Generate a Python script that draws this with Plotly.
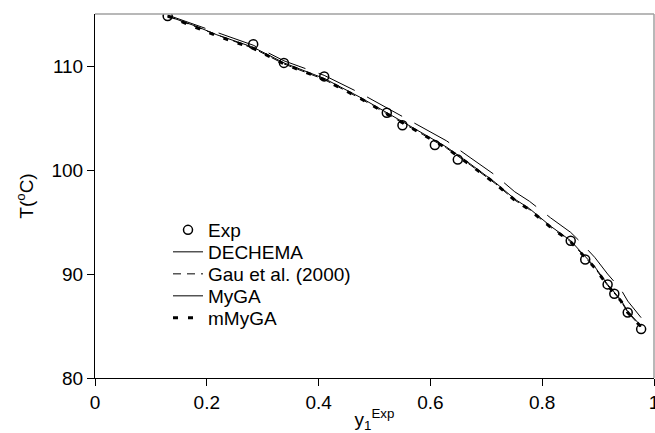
import plotly.graph_objects as go

# Experimental data
exp_x = [0.130, 0.283, 0.338, 0.410, 0.522, 0.550, 0.608, 0.649, 0.851, 0.877, 0.917, 0.929, 0.953, 0.977]
exp_T = [114.8, 112.1, 110.3, 109.0, 105.5, 104.3, 102.4, 101.0, 93.2, 91.4, 89.0, 88.1, 86.3, 84.7]

# Model curves
mod_x = [0.130, 0.182, 0.218, 0.283, 0.338, 0.410, 0.474, 0.522, 0.575, 0.629, 0.671, 0.716,
         0.751, 0.777, 0.815, 0.851, 0.868, 0.894, 0.917, 0.941, 0.953, 0.969, 0.977]
dechema_T = [114.9, 113.9, 113.2, 112.0, 110.5, 109.1, 107.4, 106.0, 104.4, 102.8, 101.2, 99.5,
             97.9, 97.0, 95.4, 94.0, 93.1, 91.6, 90.0, 88.5, 87.4, 86.4, 85.8]
gau_T = [114.8, 113.7, 113.0, 111.7, 110.2, 108.7, 106.9, 105.4, 103.8, 102.1, 100.5, 98.7,
         97.1, 96.2, 94.5, 93.1, 92.1, 90.6, 88.9, 87.4, 86.3, 85.4, 84.9]
myga_T = [114.8, 113.8, 113.0, 111.8, 110.3, 108.8, 107.0, 105.5, 103.9, 102.2, 100.6, 98.8,
          97.2, 96.3, 94.6, 93.2, 92.2, 90.7, 89.0, 87.5, 86.4, 85.5, 85.0]
mmyga_T = [114.8, 113.7, 112.9, 111.7, 110.2, 108.7, 106.9, 105.4, 103.8, 102.1, 100.5, 98.7,
           97.1, 96.2, 94.5, 93.1, 92.1, 90.6, 88.9, 87.4, 86.3, 85.4, 84.9]

series_names = ["Exp", "DECHEMA", "Gau et al. (2000)", "MyGA", "mMyGA"]

x_ticks = [0, 0.2, 0.4, 0.6, 0.8, 1]
x_tick_labels = ["0", "0.2", "0.4", "0.6", "0.8", "1"]
y_ticks = [80, 90, 100, 110]
y_tick_labels = ["80", "90", "100", "110"]

FONT = "Liberation Sans, Arial, sans-serif"
FS = 19

fig = go.Figure()
fig.add_trace(go.Scatter(x=exp_x, y=exp_T, mode="markers", name=series_names[0], legend="legend",
                         marker=dict(symbol="circle-open", size=9, color="black",
                                     line=dict(width=1.5, color="black"))))
fig.add_trace(go.Scatter(x=mod_x, y=dechema_T, mode="lines", name=series_names[1], legend="legend2",
                         line=dict(color="black", width=1, dash="40px,14px")))
fig.add_trace(go.Scatter(x=mod_x, y=gau_T, mode="lines", name=series_names[2], legend="legend3",
                         line=dict(color="black", width=1, dash="8px,6px")))
fig.add_trace(go.Scatter(x=mod_x, y=myga_T, mode="lines", name=series_names[3], legend="legend4",
                         line=dict(color="black", width=1)))
fig.add_trace(go.Scatter(x=mod_x, y=mmyga_T, mode="lines", name=series_names[4], legend="legend5",
                         line=dict(color="black", width=3, dash="5px,10px")))

leg_x = 0.1306
leg_ys = [0.4066, 0.3462, 0.2857, 0.2253, 0.1648]
leg_common = dict(x=leg_x, xanchor="left", yanchor="middle", bgcolor="rgba(0,0,0,0)",
                  font=dict(size=FS, family=FONT, color="black"), itemwidth=30, borderwidth=0)

fig.update_layout(
    width=655, height=433,
    margin=dict(l=95, r=1, t=14, b=55),
    paper_bgcolor="white", plot_bgcolor="white",
    font=dict(family=FONT, size=FS, color="black"),
    showlegend=True,
    legend=dict(y=leg_ys[0], **leg_common),
    legend2=dict(y=leg_ys[1], **leg_common),
    legend3=dict(y=leg_ys[2], **leg_common),
    legend4=dict(y=leg_ys[3], **leg_common),
    legend5=dict(y=leg_ys[4], **leg_common),
    xaxis=dict(range=[0, 1], tickvals=x_ticks, ticktext=x_tick_labels,
               ticks="outside", ticklen=7, tickcolor="black", showline=True,
               linecolor="black", linewidth=1, showgrid=False, zeroline=False,
               automargin=False, ticklabeloverflow="allow",
               title=dict(text="y<sub>1</sub><sup>Exp</sup>", standoff=0,
                          font=dict(size=FS))),
    yaxis=dict(range=[80, 115], tickvals=y_ticks, ticktext=y_tick_labels,
               ticks="outside", ticklen=7, tickcolor="black", showline=True,
               linecolor="black", linewidth=1, showgrid=False, zeroline=False,
               automargin=False, ticklabeloverflow="allow",
               title=dict(text="T(<sup>o</sup>C)", standoff=12, font=dict(size=FS))),
    shapes=[
        dict(type="line", xref="paper", yref="paper", x0=0, x1=1, y0=1, y1=1,
             line=dict(color="#a0a0a0", width=1.5)),
        dict(type="line", xref="paper", yref="paper", x0=1, x1=1, y0=0, y1=1,
             line=dict(color="#a0a0a0", width=1.5)),
    ],
)

fig.write_html("out.html", config={"displayModeBar": False})

# remove the default page margin so the figure sits at the window's corner
with open("out.html", "r", encoding="utf-8") as f:
    html = f.read()
html = html.replace("<head>", "<head><style>html,body{margin:0;padding:0;overflow:hidden;}</style>", 1)
with open("out.html", "w", encoding="utf-8") as f:
    f.write(html)
